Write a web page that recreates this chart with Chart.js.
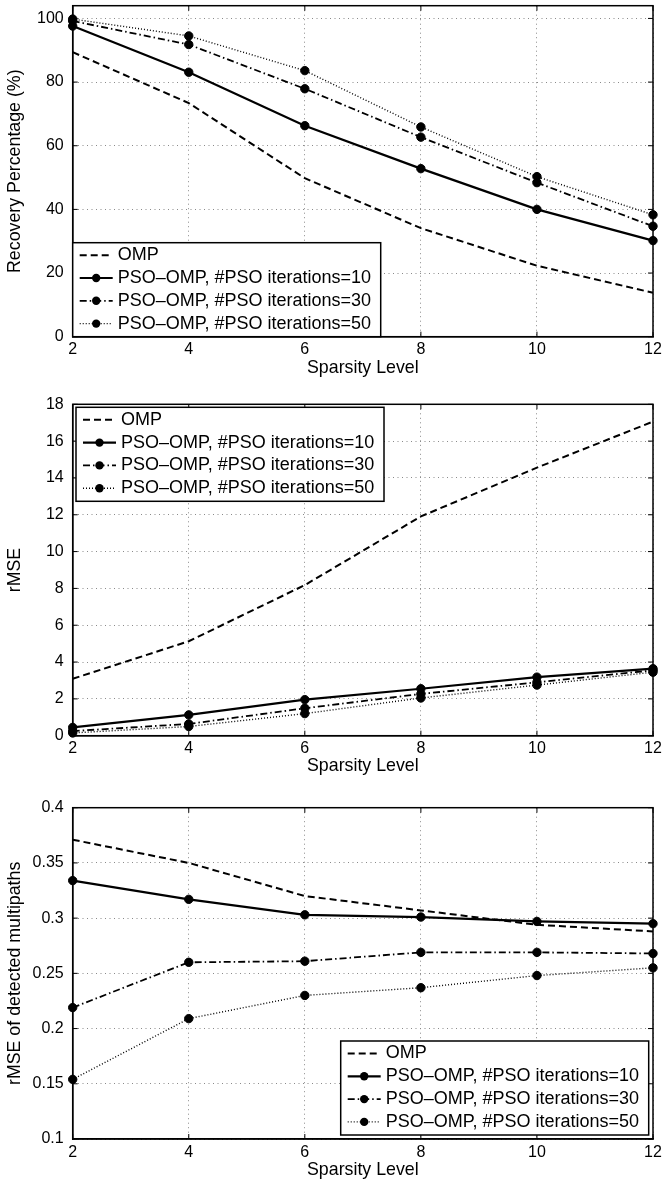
<!DOCTYPE html>
<html><head><meta charset="utf-8">
<script src="https://cdn.jsdelivr.net/npm/chart.js@4.4.1/dist/chart.umd.min.js"></script>
<style>
html,body{margin:0;padding:0;background:#fff;width:663px;height:1182px;overflow:hidden}
canvas{position:absolute;left:0}
</style></head>
<body>
<canvas id="c1" width="663" height="385" style="top:0px"></canvas>
<canvas id="c2" width="663" height="400" style="top:385px"></canvas>
<canvas id="c3" width="663" height="397" style="top:785px"></canvas>
<script>
// ---------- DATA ----------
const sparsity = [2, 4, 6, 8, 10, 12];
const seriesNames = ['OMP', 'PSO–OMP, #PSO iterations=10', 'PSO–OMP, #PSO iterations=30', 'PSO–OMP, #PSO iterations=50'];

// Chart 1: Recovery Percentage (%)
const recOMP   = [89.4, 73.4, 49.8, 34.1, 22.3, 13.8];
const recPSO10 = [97.6, 83.1, 66.3, 52.8, 40.0, 30.2];
const recPSO30 = [99.2, 91.8, 77.9, 62.7, 48.4, 34.7];
const recPSO50 = [99.8, 94.5, 83.6, 65.9, 50.3, 38.3];

// Chart 2: rMSE
const rmseOMP   = [3.09, 5.13, 8.18, 11.91, 14.56, 17.06];
const rmsePSO10 = [0.45, 1.13, 1.96, 2.55, 3.18, 3.64];
const rmsePSO30 = [0.25, 0.64, 1.49, 2.27, 2.90, 3.55];
const rmsePSO50 = [0.15, 0.50, 1.20, 2.05, 2.75, 3.45];

// Chart 3: rMSE of detected multipaths
const detOMP   = [0.371, 0.350, 0.320, 0.307, 0.294, 0.288];
const detPSO10 = [0.334, 0.317, 0.303, 0.301, 0.297, 0.295];
const detPSO30 = [0.219, 0.260, 0.261, 0.269, 0.269, 0.268];
const detPSO50 = [0.154, 0.209, 0.230, 0.237, 0.248, 0.255];

// Ticks
const xTicks = [2, 4, 6, 8, 10, 12];
const xTickLabels = ['2', '4', '6', '8', '10', '12'];
const y1Ticks = [0, 20, 40, 60, 80, 100];
const y1TickLabels = ['0', '20', '40', '60', '80', '100'];
const y2Ticks = [0, 2, 4, 6, 8, 10, 12, 14, 16, 18];
const y2TickLabels = ['0', '2', '4', '6', '8', '10', '12', '14', '16', '18'];
const y3Ticks = [0.1, 0.15, 0.2, 0.25, 0.3, 0.35, 0.4];
const y3TickLabels = ['0.1', '0.15', '0.2', '0.25', '0.3', '0.35', '0.4'];

// ---------- STYLE ----------
const FONT = '"Liberation Sans", Arial, Helvetica, sans-serif';
Chart.defaults.font.family = FONT;
Chart.defaults.color = '#000';

const lineStyles = [
  { w: 2.0, dash: [7, 4], r: 0 },
  { w: 2.2, dash: [], r: 4.2 },
  { w: 1.8, dash: [7, 3, 1.5, 3], r: 4.2 },
  { w: 1.4, dash: [1, 2], r: 4.2 }
];

function makeDatasets(seriesList) {
  return seriesList.map((vals, i) => ({
    label: seriesNames[i],
    data: sparsity.map((x, j) => ({ x: x, y: vals[j] })),
    borderColor: '#000',
    backgroundColor: '#000',
    pointBackgroundColor: '#000',
    pointBorderColor: '#000',
    pointBorderWidth: 1,
    borderWidth: lineStyles[i].w,
    borderDash: lineStyles[i].dash,
    pointRadius: lineStyles[i].r,
    pointHoverRadius: lineStyles[i].r,
    tension: 0,
    fill: false,
    clip: false
  }));
}

// frame + inward ticks
const framePlugin = {
  id: 'frame',
  beforeDatasetsDraw(chart) {
    const ca = chart.chartArea, ctx = chart.ctx;
    const xs = chart.scales.x, ys = chart.scales.y;
    ctx.save();
    ctx.strokeStyle = '#000';
    ctx.lineWidth = 1.5;
    ctx.setLineDash([]);
    ctx.strokeRect(ca.left, ca.top, ca.right - ca.left, ca.bottom - ca.top);
    ctx.lineWidth = 1;
    const tl = 5;
    ctx.beginPath();
    xs.ticks.forEach(t => {
      const px = xs.getPixelForValue(t.value);
      ctx.moveTo(px, ca.bottom); ctx.lineTo(px, ca.bottom - tl);
      ctx.moveTo(px, ca.top); ctx.lineTo(px, ca.top + tl);
    });
    ys.ticks.forEach(t => {
      const py = ys.getPixelForValue(t.value);
      ctx.moveTo(ca.left, py); ctx.lineTo(ca.left + tl, py);
      ctx.moveTo(ca.right, py); ctx.lineTo(ca.right - tl, py);
    });
    ctx.stroke();
    ctx.restore();
  }
};

// boxed legend inside plot
const boxLegend = {
  id: 'boxLegend',
  afterDraw(chart, args, opts) {
    if (!opts || !opts.corner) return;
    const ca = chart.chartArea, ctx = chart.ctx;
    const W = 308, H = 94;
    let x, y;
    if (opts.corner === 'bl') { x = ca.left + opts.dx; y = ca.bottom - H - opts.dy; }
    else if (opts.corner === 'tl') { x = ca.left + opts.dx; y = ca.top + opts.dy; }
    else { x = ca.right - W - opts.dx; y = ca.bottom - H - opts.dy; }
    ctx.save();
    ctx.fillStyle = '#fff';
    ctx.fillRect(x, y, W, H);
    ctx.strokeStyle = '#000';
    ctx.lineWidth = 1.5;
    ctx.setLineDash([]);
    ctx.strokeRect(x, y, W, H);
    chart.data.datasets.forEach((ds, i) => {
      const cy = y + 12.5 + i * 22.8;
      ctx.strokeStyle = '#000';
      ctx.lineWidth = ds.borderWidth;
      ctx.setLineDash(ds.borderDash || []);
      ctx.beginPath();
      ctx.moveTo(x + 7, cy); ctx.lineTo(x + 40, cy);
      ctx.stroke();
      ctx.setLineDash([]);
      if (ds.pointRadius > 0) {
        ctx.fillStyle = '#000';
        ctx.beginPath();
        ctx.arc(x + 23.5, cy, ds.pointRadius, 0, Math.PI * 2);
        ctx.fill();
      }
      ctx.fillStyle = '#000';
      ctx.font = '18px ' + FONT;
      ctx.textBaseline = 'middle';
      ctx.textAlign = 'left';
      ctx.fillText(ds.label, x + 45, cy);
    });
    ctx.restore();
  }
};

function makeChart(id, seriesList, cfg) {
  new Chart(document.getElementById(id), {
    type: 'line',
    data: { datasets: makeDatasets(seriesList) },
    plugins: [framePlugin, boxLegend],
    options: {
      responsive: false,
      animation: false,
      events: [],
      devicePixelRatio: 1,
      layout: { padding: { top: cfg.padTop, right: 10, left: 0, bottom: 0 } },
      plugins: {
        legend: { display: false },
        tooltip: { enabled: false },
        boxLegend: cfg.legend
      },
      scales: {
        x: {
          type: 'linear',
          min: 2, max: 12,
          afterBuildTicks: s => { s.ticks = xTicks.map(v => ({ value: v })); },
          afterFit: s => { s.height = cfg.xH; s.paddingLeft = 0; s.paddingRight = 0; },
          ticks: {
            padding: 3.5, font: { size: 16 }, maxRotation: 0, autoSkip: false,
            callback: (v, i) => xTickLabels[i]
          },
          grid: { color: '#8a8a8a', lineWidth: 1, drawTicks: false },
          border: { display: true, color: '#000', width: 1.5, dash: [1, 3.5] },
          title: { display: true, text: 'Sparsity Level', font: { size: 17.8 }, padding: { top: 0, bottom: cfg.xTitlePad } }
        },
        y: {
          type: 'linear',
          min: cfg.yMin, max: cfg.yMax,
          afterBuildTicks: s => { s.ticks = cfg.yTicks.map(v => ({ value: v })); },
          afterFit: s => { s.width = 72.7; s.paddingTop = 0; s.paddingBottom = 0; },
          ticks: {
            padding: 9, font: { size: 16 }, autoSkip: false,
            callback: (v, i) => cfg.yTickLabels[i]
          },
          grid: { color: '#8a8a8a', lineWidth: 1, drawTicks: false },
          border: { display: true, color: '#000', width: 1.5, dash: [1, 3.5] },
          title: { display: true, text: cfg.yTitle, font: { size: 17.8 }, padding: { top: 4.3, bottom: 0 } }
        }
      }
    }
  });
}

makeChart('c1', [recOMP, recPSO10, recPSO30, recPSO50], {
  padTop: 5.7, xH: 48.3, xTitlePad: 6.3,
  yMin: 0, yMax: 104, yTicks: y1Ticks, yTickLabels: y1TickLabels,
  yTitle: 'Recovery Percentage (%)',
  legend: { corner: 'bl', dx: 0, dy: 0 }
});
makeChart('c2', [rmseOMP, rmsePSO10, rmsePSO30, rmsePSO50], {
  padTop: 19.3, xH: 49.3, xTitlePad: 7.8,
  yMin: 0, yMax: 18, yTicks: y2Ticks, yTickLabels: y2TickLabels,
  yTitle: 'rMSE',
  legend: { corner: 'tl', dx: 3.3, dy: 3 }
});
makeChart('c3', [detOMP, detPSO10, detPSO30, detPSO50], {
  padTop: 22.7, xH: 43, xTitlePad: 1.3,
  yMin: 0.1, yMax: 0.4, yTicks: y3Ticks, yTickLabels: y3TickLabels,
  yTitle: 'rMSE of detected multipaths',
  legend: { corner: 'br', dx: 4.3, dy: 4 }
});
</script>
</body></html>
